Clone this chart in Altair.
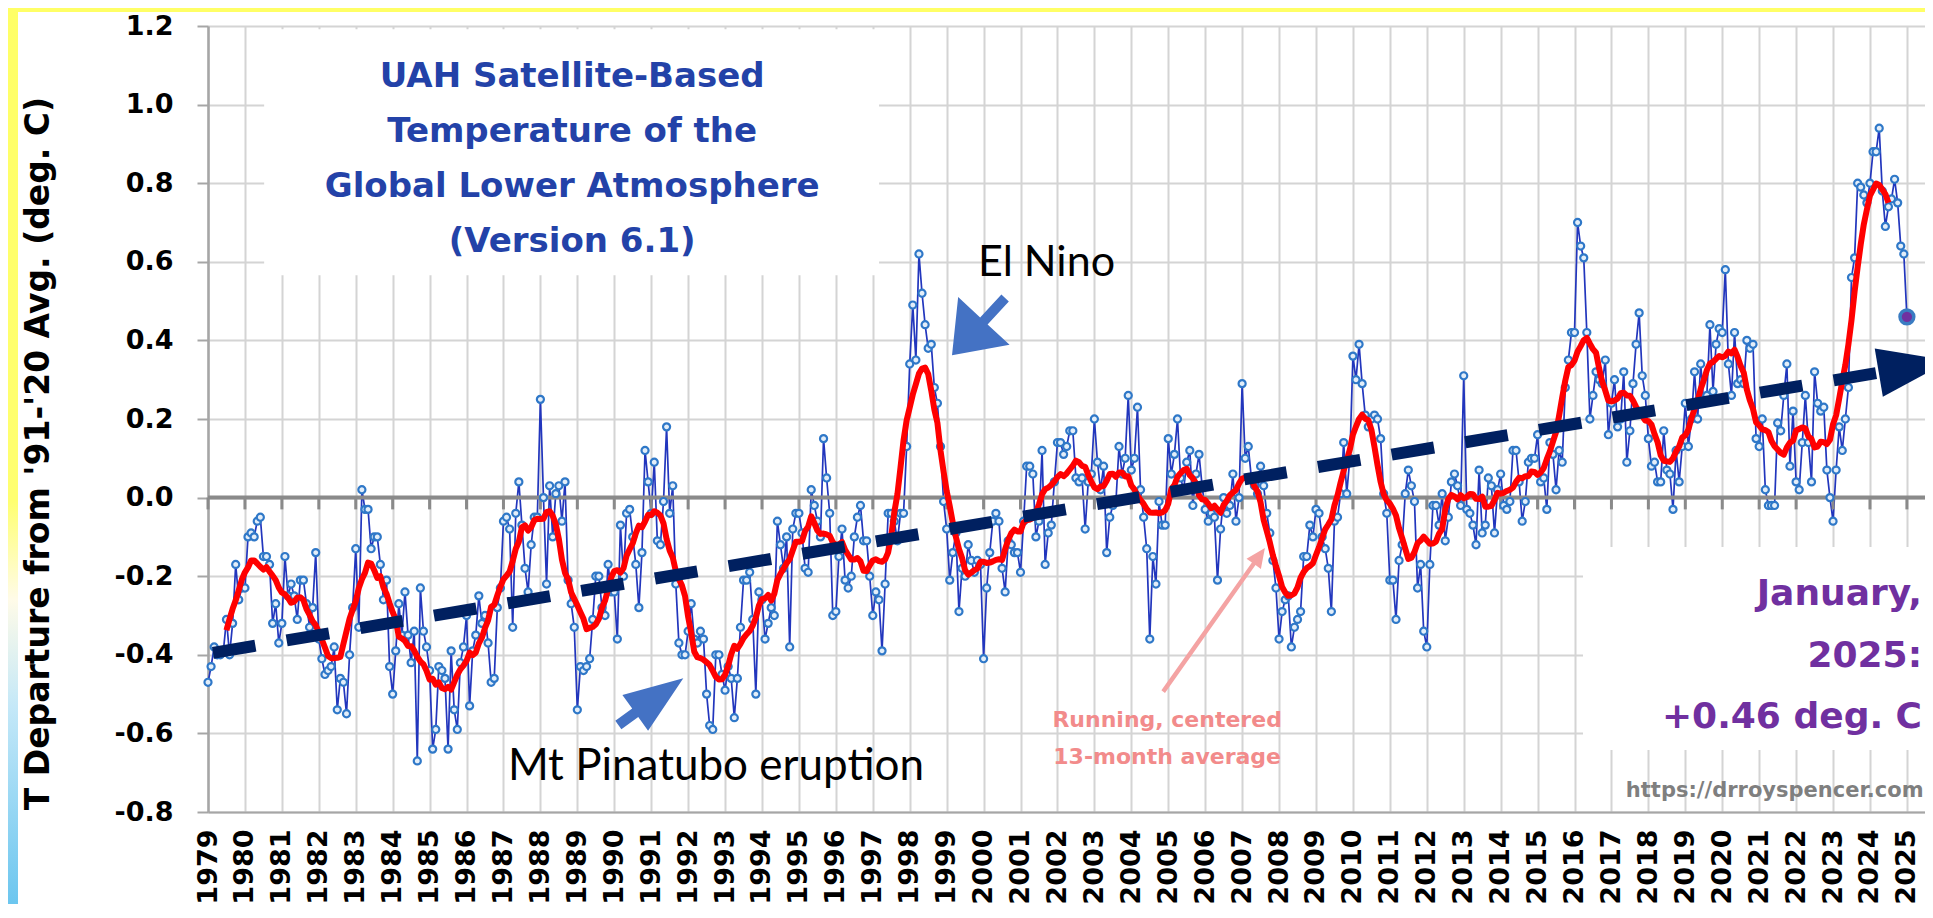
import altair as alt
import pandas as pd

# ---------------- monthly global lower-troposphere anomalies (deg C) ----------------
y1979 = [-0.47, -0.43, -0.38, -0.40, -0.40, -0.39, -0.31, -0.40, -0.32, -0.17, -0.26, -0.23]
y1980 = [-0.23, -0.10, -0.09, -0.10, -0.06, -0.05, -0.15, -0.15, -0.17, -0.32, -0.27, -0.37]
y1981 = [-0.32, -0.15, -0.25, -0.22, -0.25, -0.31, -0.21, -0.21, -0.27, -0.33, -0.28, -0.14]
y1982 = [-0.36, -0.41, -0.45, -0.44, -0.43, -0.38, -0.54, -0.46, -0.47, -0.55, -0.40, -0.28]
y1983 = [-0.13, -0.33, 0.02, -0.03, -0.03, -0.13, -0.10, -0.10, -0.17, -0.26, -0.21, -0.43]
y1984 = [-0.50, -0.39, -0.27, -0.35, -0.24, -0.35, -0.42, -0.34, -0.67, -0.23, -0.34, -0.38]
y1985 = [-0.44, -0.64, -0.59, -0.43, -0.44, -0.46, -0.64, -0.39, -0.54, -0.59, -0.42, -0.38]
y1986 = [-0.30, -0.53, -0.39, -0.35, -0.25, -0.32, -0.30, -0.37, -0.47, -0.46, -0.28, -0.23]
y1987 = [-0.06, -0.05, -0.08, -0.33, -0.04, 0.04, -0.07, -0.18, -0.24, -0.12, -0.05, -0.05]
y1988 = [0.25, 0.00, -0.22, 0.03, -0.10, 0.01, 0.03, -0.06, 0.04, -0.21, -0.27, -0.33]
y1989 = [-0.54, -0.43, -0.44, -0.43, -0.41, -0.31, -0.20, -0.20, -0.28, -0.30, -0.17, -0.24]
y1990 = [-0.24, -0.36, -0.07, -0.20, -0.04, -0.03, -0.10, -0.17, -0.28, -0.14, 0.12, 0.04]
y1991 = [-0.04, 0.09, -0.11, -0.12, -0.01, 0.18, -0.04, 0.03, -0.22, -0.37, -0.40, -0.40]
y1992 = [-0.34, -0.27, -0.36, -0.37, -0.34, -0.36, -0.50, -0.58, -0.59, -0.40, -0.40, -0.45]
y1993 = [-0.49, -0.43, -0.46, -0.56, -0.46, -0.33, -0.21, -0.21, -0.19, -0.31, -0.50, -0.24]
y1994 = [-0.26, -0.36, -0.32, -0.28, -0.30, -0.06, -0.12, -0.18, -0.10, -0.38, -0.08, -0.04]
y1995 = [-0.04, -0.09, -0.18, -0.19, 0.02, -0.02, -0.06, -0.10, 0.15, 0.05, -0.04, -0.30]
y1996 = [-0.29, -0.15, -0.08, -0.21, -0.23, -0.20, -0.10, -0.05, -0.02, -0.11, -0.11, -0.20]
y1997 = [-0.30, -0.24, -0.26, -0.39, -0.22, -0.04, -0.04, -0.06, -0.11, -0.04, -0.04, 0.13]
y1998 = [0.34, 0.49, 0.35, 0.62, 0.52, 0.44, 0.38, 0.39, 0.28, 0.24, 0.13, -0.01]
y1999 = [-0.08, -0.21, -0.14, -0.09, -0.29, -0.18, -0.20, -0.12, -0.16, -0.19, -0.16, -0.17]
y2000 = [-0.41, -0.23, -0.14, -0.06, -0.04, -0.06, -0.18, -0.24, -0.11, -0.12, -0.14, -0.14]
y2001 = [-0.19, -0.06, 0.08, 0.08, 0.06, -0.10, -0.06, 0.12, -0.17, -0.09, -0.07, 0.04]
y2002 = [0.14, 0.14, 0.11, 0.13, 0.17, 0.17, 0.05, 0.04, 0.05, -0.08, 0.04, 0.06]
y2003 = [0.20, 0.09, 0.02, 0.08, -0.14, -0.05, -0.02, -0.01, 0.13, 0.06, 0.10, 0.26]
y2004 = [0.07, 0.10, 0.23, 0.02, -0.05, -0.13, -0.36, -0.15, -0.22, -0.01, -0.07, -0.07]
y2005 = [0.15, 0.06, 0.11, 0.20, 0.05, 0.02, 0.09, 0.12, -0.02, 0.06, 0.11, 0.03]
y2006 = [-0.03, -0.06, -0.04, -0.05, -0.21, -0.08, 0.00, -0.04, -0.02, 0.06, -0.06, 0.00]
y2007 = [0.29, 0.10, 0.13, 0.05, 0.03, 0.01, 0.08, 0.03, -0.04, -0.09, -0.16, -0.23]
y2008 = [-0.36, -0.29, -0.26, -0.25, -0.38, -0.33, -0.31, -0.29, -0.15, -0.15, -0.07, -0.10]
y2009 = [-0.03, -0.04, -0.10, -0.13, -0.18, -0.29, -0.06, -0.05, 0.01, 0.14, 0.01, 0.10]
y2010 = [0.36, 0.30, 0.39, 0.29, 0.21, 0.18, 0.20, 0.21, 0.20, 0.15, 0.01, -0.04]
y2011 = [-0.21, -0.21, -0.31, -0.16, -0.12, 0.01, 0.07, 0.03, -0.01, -0.23, -0.17, -0.34]
y2012 = [-0.38, -0.17, -0.02, -0.02, -0.07, 0.01, -0.11, -0.05, 0.04, 0.06, 0.03, -0.02]
y2013 = [0.31, -0.03, -0.04, -0.07, -0.12, 0.07, -0.09, -0.07, 0.05, 0.03, -0.09, 0.02]
y2014 = [0.06, -0.02, -0.03, -0.01, 0.12, 0.12, 0.04, -0.06, -0.01, 0.09, 0.10, 0.10]
y2015 = [0.16, 0.04, 0.05, -0.03, 0.14, 0.11, 0.02, 0.12, 0.09, 0.28, 0.35, 0.42]
y2016 = [0.42, 0.70, 0.64, 0.61, 0.42, 0.20, 0.26, 0.32, 0.30, 0.29, 0.35, 0.16]
y2017 = [0.24, 0.30, 0.18, 0.20, 0.32, 0.09, 0.17, 0.29, 0.39, 0.47, 0.31, 0.26]
y2018 = [0.15, 0.08, 0.09, 0.04, 0.04, 0.17, 0.07, 0.06, -0.03, 0.12, 0.04, 0.13]
y2019 = [0.24, 0.13, 0.20, 0.32, 0.20, 0.34, 0.24, 0.26, 0.44, 0.27, 0.39, 0.43]
y2020 = [0.42, 0.58, 0.34, 0.26, 0.42, 0.29, 0.30, 0.29, 0.40, 0.38, 0.39, 0.15]
y2021 = [0.13, 0.20, 0.02, -0.02, -0.02, -0.02, 0.19, 0.17, 0.26, 0.34, 0.08, 0.22]
y2022 = [0.04, 0.02, 0.14, 0.26, 0.14, 0.04, 0.32, 0.24, 0.22, 0.23, 0.07, 0.00]
y2023 = [-0.06, 0.07, 0.18, 0.12, 0.20, 0.28, 0.56, 0.61, 0.80, 0.79, 0.77, 0.75]
y2024 = [0.80, 0.88, 0.88, 0.94, 0.78, 0.69, 0.74, 0.76, 0.81, 0.75, 0.64, 0.62]
y2025 = [0.46]

series = [y1979, y1980, y1981, y1982, y1983, y1984, y1985, y1986, y1987, y1988,
          y1989, y1990, y1991, y1992, y1993, y1994, y1995, y1996, y1997, y1998,
          y1999, y2000, y2001, y2002, y2003, y2004, y2005, y2006, y2007, y2008,
          y2009, y2010, y2011, y2012, y2013, y2014, y2015, y2016, y2017, y2018,
          y2019, y2020, y2021, y2022, y2023, y2024, y2025]
for k, s in enumerate(series[:-1]):
    assert len(s) == 12, (1979 + k, len(s))

values = [v for s in series for v in s]
times = [1979 + i / 12.0 for i in range(len(values))]
df = pd.DataFrame({"t": times, "v": values})

years = list(range(1979, 2026))
yticks = [-0.8, -0.6, -0.4, -0.2, 0.0, 0.2, 0.4, 0.6, 0.8, 1.0, 1.2]

# trend arrow (hand-drawn linear trend)
trend_t = [1979.135, 2024.19]
trend_v = [-0.395, 0.317]
head_t = [2025.2]
head_v = [0.333]

# annotation texts
title_lines = ["UAH Satellite-Based", "Temperature of the", "Global Lower Atmosphere", "(Version 6.1)"]
title_y = [1.045, 0.904, 0.764, 0.624]
title_x = 1988.86
month_lines = ["January,", "2025:", "+0.46 deg. C"]
month_y = [-0.273, -0.431, -0.5865]
running_lines = ["Running, centered", "13-month average"]
running_y = [-0.584, -0.678]

# ---------------- chart ----------------
W, H = 1717, 786
BOLD = "DejaVu Sans"
xs = alt.Scale(domain=[1979, 2025.49], nice=False, zero=False)
ys = alt.Scale(domain=[-0.8, 1.2], nice=False, zero=False)

x_axis = alt.Axis(values=years, format="d", labelAngle=270, labelFont=BOLD,
                  labelFontWeight="bold", labelFontSize=27, labelColor="#000000",
                  labelPadding=17, labelOverlap=False, labelFlush=False, ticks=False,
                  domainColor="#a6a6a6", domainWidth=2, grid=True,
                  gridColor="#d4d4d4", gridWidth=2, title="")
y_axis = alt.Axis(values=yticks,
                  labelExpr="replace(format(datum.value, '.1f'), '\u2212', '-')",
                  labelFont=BOLD, labelFontWeight="bold", labelFontSize=27,
                  labelColor="#000000", labelPadding=24, tickSize=11,
                  tickColor="#a6a6a6", tickWidth=2, domainColor="#a6a6a6",
                  domainWidth=2.5, grid=True, gridColor="#d4d4d4", gridWidth=2,
                  title="T Departure from '91-'20 Avg. (deg. C)", titleFont=BOLD,
                  titleFontSize=33, titleFontWeight="bold", titleColor="#000000",
                  titleAngle=270, titleX=-160, titleY=427, titleAlign="center",
                  titleBaseline="alphabetic")


def X(f):
    return alt.X(field=f, type="quantitative", scale=xs, axis=x_axis)


def Y(f):
    return alt.Y(field=f, type="quantitative", scale=ys, axis=y_axis)


one = pd.DataFrame({"k": [0]})

strip = alt.Chart(one).mark_rect(
    color=alt.Gradient(gradient="linear", x1=0, x2=0, y1=0, y2=1, stops=[
        alt.GradientStop(color="#ffff66", offset=0),
        alt.GradientStop(color="#ffff70", offset=0.55),
        alt.GradientStop(color="#fffbe8", offset=0.66),
        alt.GradientStop(color="#c4e8f8", offset=0.78),
        alt.GradientStop(color="#6cc6ef", offset=1),
    ])
).encode(x=alt.value(-200), x2=alt.value(-190), y=alt.value(-18), y2=alt.value(H + 92))

topband = alt.Chart(one).mark_rect(color="#ffff66").encode(
    x=alt.value(-200), x2=alt.value(W), y=alt.value(-18), y2=alt.value(-14))

boxes_df = pd.DataFrame({"x0": [1980.52, 2016.23], "x1": [1997.17, 2025.49],
                         "y0": [1.192, -0.126], "y1": [0.566, -0.642]})
boxes = alt.Chart(boxes_df).mark_rect(color="#ffffff").encode(
    x=X("x0"), x2=alt.X2("x1"), y=Y("y0"), y2=alt.Y2("y1"))

zero = alt.Chart(pd.DataFrame({"y": [0.0]})).mark_rule(color="#8a8a8a", strokeWidth=4).encode(
    y=Y("y"), x=alt.value(0), x2=alt.value(W))

ticks_df = pd.DataFrame({"yr": years, "a": [0.0] * len(years), "b": [-0.03] * len(years)})
ticks = alt.Chart(ticks_df).mark_rule(color="#8a8a8a", strokeWidth=3).encode(
    x=X("yr"), y=Y("a"), y2=alt.Y2("b"))

line = alt.Chart(df).mark_line(color="#2236bd", strokeWidth=1.7).encode(
    x=X("t"), y=Y("v"))

pts = alt.Chart(df).mark_point(shape="circle", filled=True, fill="#e3eef9",
                               stroke="#2f78c8", strokeWidth=2.2, size=50,
                               opacity=1).encode(x=X("t"), y=Y("v"))

red = alt.Chart(df).transform_window(
    rm="mean(v)", n="count()", frame=[-6, 6], sort=[alt.SortField("t")]
).transform_filter("datum.n == 13").mark_line(
    color="#ff0000", strokeWidth=6, strokeJoin="round").encode(x=X("t"), y=Y("rm"))

trend = alt.Chart(pd.DataFrame({"t": trend_t, "v": trend_v})).mark_line(
    color="#002060", strokeWidth=12, strokeDash=[43, 31.7], strokeCap="butt").encode(
    x=X("t"), y=Y("v"))

head = alt.Chart(pd.DataFrame({"t": head_t, "v": head_v})).mark_point(
    shape="M-1,-0.68L1,0L-1,0.68Z", filled=True, color="#002060", size=5184,
    angle=350.45, opacity=1, strokeWidth=0).encode(x=X("t"), y=Y("v"))

last = alt.Chart(df.tail(1)).mark_point(shape="circle", filled=True, fill="#7030a0",
                                        stroke="#3a7cc2", strokeWidth=3.5, size=190,
                                        opacity=1).encode(x=X("t"), y=Y("v"))

ELNINO_PATH = "M-1,-0.13L-0.2,-0.13L-0.2,-0.9L1,0L-0.2,0.9L-0.2,0.13L-1,0.13Z"
PINA_PATH = "M-1,-0.13L-0.48,-0.13L-0.48,-0.55L1,0L-0.48,0.55L-0.48,0.13L-1,0.13Z"
PINK_PATH = "M-1,-0.025L0.78,-0.025L0.78,-0.1L1,0L0.78,0.1L0.78,0.025L-1,0.025Z"


def arrow(path, t, v, size, angle, color):
    return alt.Chart(pd.DataFrame({"t": [t], "v": [v]})).mark_point(
        shape=path, filled=True, color=color, size=size, angle=angle,
        opacity=1, strokeWidth=0).encode(x=X("t"), y=Y("v"))


arr1 = arrow(ELNINO_PATH, 1999.864, 0.435, 6084, 132.9, "#4472c4")
arr2 = arrow(PINA_PATH, 1990.99, -0.519, 6400, 324.3, "#4472c4")
arr3 = arrow(PINK_PATH, 2006.24, -0.311, 30976, 305.3, "#f4a3a3")


def texts(labels, xs_, ys_, font, size, weight, color, align):
    d = pd.DataFrame({"label": labels, "t": xs_, "v": ys_})
    return alt.Chart(d).mark_text(align=align, baseline="alphabetic", font=font,
                                  fontSize=size, fontWeight=weight, color=color).encode(
        x=X("t"), y=Y("v"), text=alt.Text("label:N"))


t_title = texts(title_lines, [title_x] * 4, title_y, BOLD, 34, "bold", "#2342a8", "center")
t_elnino = texts(["El Nino"], [1999.85], [0.5636], "Lato", 43, "normal", "#000000", "left")
t_pina = texts(["Mt Pinatubo eruption"], [1987.12], [-0.7186], "Lato", 44, "normal", "#000000", "left")
t_run = texts(running_lines, [2004.97] * 2, running_y, BOLD, 22, "bold", "#f28b8b", "center")
t_month = texts(month_lines, [2025.41] * 3, month_y, BOLD, 36, "bold", "#7030a0", "right")
t_url = texts(["https://drroyspencer.com"], [2025.45], [-0.762], BOLD, 21, "bold", "#7f7f7f", "right")

chart = alt.layer(
    line, strip, topband, boxes, zero, ticks, pts, red, trend, head, last,
    arr1, arr2, arr3, t_title, t_elnino, t_pina, t_run, t_month, t_url
).properties(
    width=W, height=H,
    padding={"left": 200, "top": 18, "right": 0, "bottom": 92},
    autosize=alt.AutoSizeParams(type="none"),
).configure_view(stroke="transparent")

chart.save("out.html", embed_options={"renderer": "svg", "actions": False})
